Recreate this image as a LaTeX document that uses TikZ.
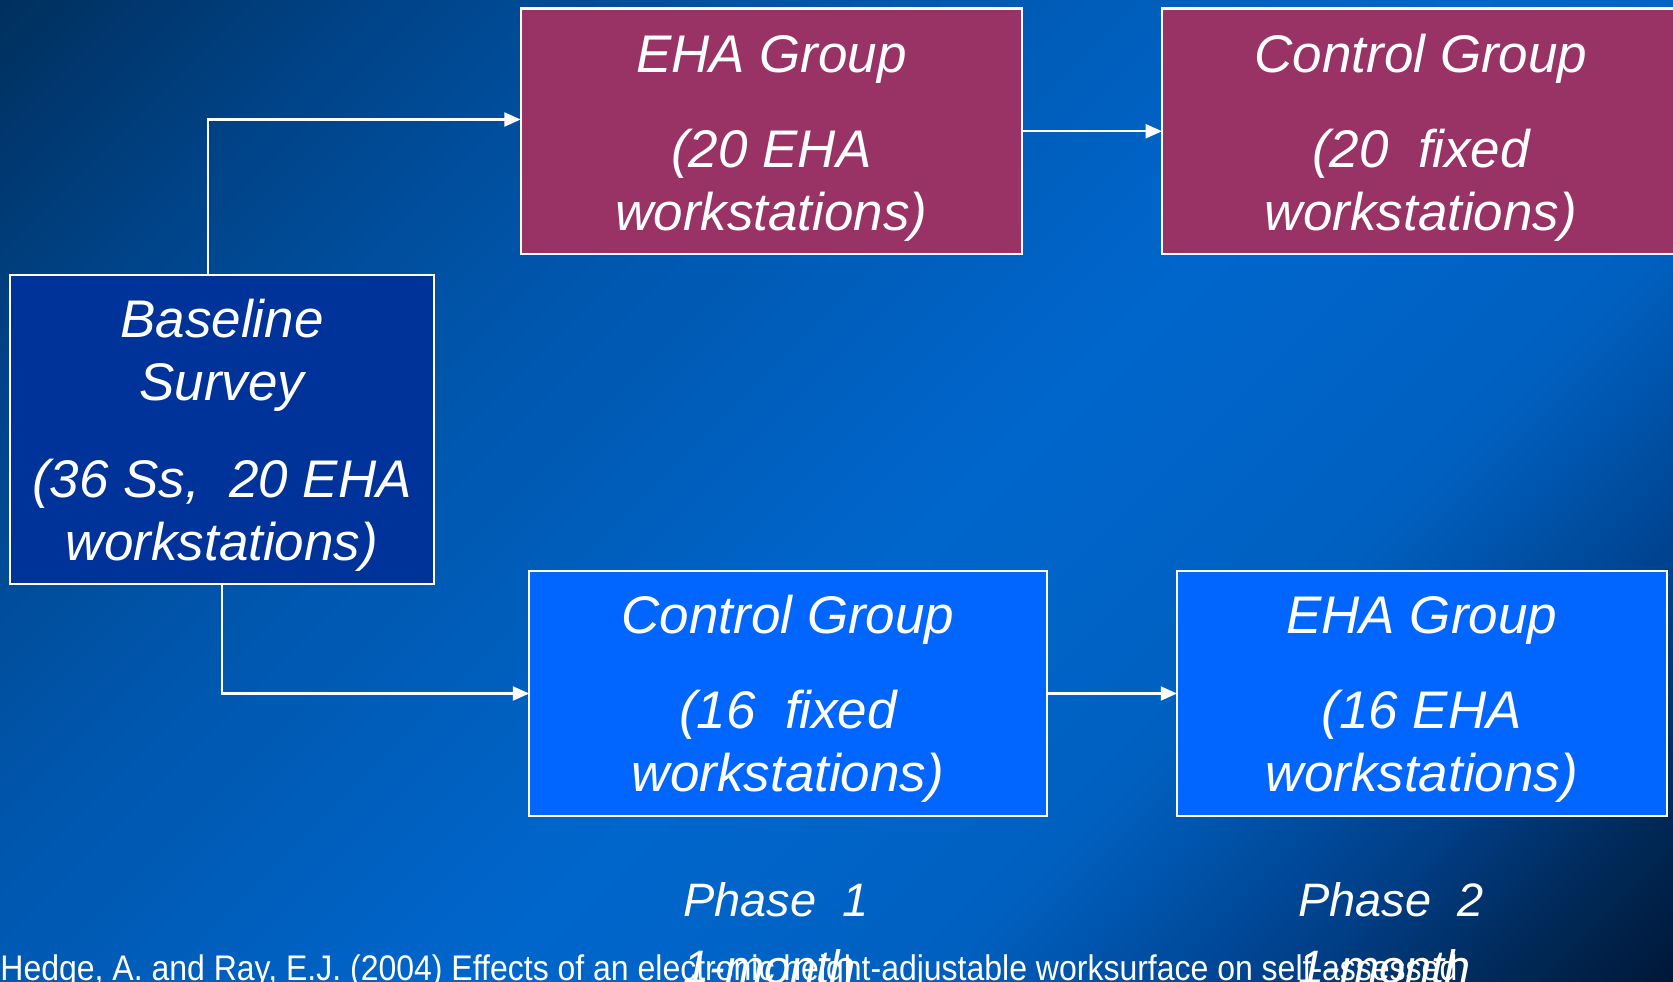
\documentclass[tikz,border=0pt]{standalone}
\usepackage{fontspec}
\setmainfont{Liberation Sans}
\newfontfamily\citefont[FakeStretch=0.9]{Liberation Sans}
\usetikzlibrary{arrows.meta}
\definecolor{bg0}{HTML}{001838}
\definecolor{bg1}{HTML}{002A5A}
\definecolor{bg2}{HTML}{00408A}
\definecolor{bg3}{HTML}{0060C0}
\definecolor{bg4}{HTML}{0066CC}
\definecolor{bg5}{HTML}{0055AA}
\definecolor{bg6}{HTML}{00448A}
\definecolor{bg7}{HTML}{00305E}
\definecolor{maroonbox}{HTML}{993366}
\definecolor{navybox}{HTML}{003399}
\definecolor{brightbox}{HTML}{0066FF}
\pgfdeclareverticalshading{bgshade}{100bp}{color(0bp)=(bg0); color(14.6bp)=(bg0); color(19.6bp)=(bg1); color(25.2bp)=(bg2); color(34.4bp)=(bg3); color(46.5bp)=(bg4); color(64.2bp)=(bg5); color(74.8bp)=(bg6); color(85.4bp)=(bg7); color(100bp)=(bg7)}
\begin{document}
\begin{tikzpicture}[x=0.4304pt,y=-0.4304pt,
  box/.style={draw=white,line width=0.9pt,rectangle,inner sep=0pt,outer sep=0pt},
  txt/.style={text=white,font=\fontsize{22.8}{27}\selectfont\itshape,inner sep=0pt,anchor=base},
  phase/.style={text=white,font=\fontsize{20.2}{24}\selectfont\itshape,inner sep=0pt,anchor=base west},
  cite/.style={text=white,font=\citefont\fontsize{15.3}{18}\selectfont,inner sep=0pt,anchor=base west},
  conn/.style={draw=white,line width=0.9pt,-{Triangle[length=7pt,width=6pt]}}]
\useasboundingbox (0,0) rectangle (1673,982);
\shade[shading=bgshade,shading angle=45] (0,0) rectangle (1673,982);
% boxes
\node[box,fill=maroonbox,minimum width=215.85pt,minimum height=105.66pt] (eha1) at (771.45,131.25) {};
\node[box,fill=maroonbox,minimum width=222.95pt,minimum height=105.66pt] (ctl1) at (1421,131.25) {};
\node[box,fill=navybox,minimum width=182.79pt,minimum height=132.69pt] (base) at (221.95,429.45) {};
\node[box,fill=brightbox,minimum width=222.73pt,minimum height=105.62pt] (ctl2) at (787.95,693.5) {};
\node[box,fill=brightbox,minimum width=210.72pt,minimum height=105.62pt] (eha2) at (1421.8,693.5) {};
% texts
\node[txt] (eha1a) at (771.45,72) {EHA Group};
\node[txt] (eha1b) at (771.45,167) {(20 EHA};
\node[txt] (eha1c) at (771.45,230) {workstations)};
\node[txt] (ctl1a) at (1421,72) {Control Group};
\node[txt] (ctl1b) at (1421,167) {(20\ \ fixed};
\node[txt] (ctl1c) at (1421,230) {workstations)};
\node[txt] (basea) at (222,337.3) {Baseline};
\node[txt] (baseb) at (222,400.7) {Survey};
\node[txt] (basec) at (222,497.3) {(36 Ss,\ \ 20 EHA};
\node[txt] (based) at (222,560) {workstations)};
\node[txt] (ctl2a) at (788,633.5) {Control Group};
\node[txt] (ctl2b) at (788,728.5) {(16\ \ fixed};
\node[txt] (ctl2c) at (788,791.7) {workstations)};
\node[txt] (eha2a) at (1421.8,633.5) {EHA Group};
\node[txt] (eha2b) at (1421.8,728.5) {(16 EHA};
\node[txt] (eha2c) at (1421.8,791.7) {workstations)};
% connectors
\coordinate (k1) at (208,119.5);
\coordinate (k2) at (222,693.5);
\draw[conn] (base.north -| k1) |- (eha1.west |- k1);
\draw[conn] (eha1.east) -- (ctl1.west);
\draw[conn] (base.south -| k2) |- (ctl2.west);
\draw[conn] (ctl2.east) -- (eha2.west);
% bottom texts
\node[cite] (cite) at (0,980) {Hedge, A. and Ray, E.J. (2004) Effects of an electronic height-adjustable worksurface on self-assessed};
\node[phase] (ph1) at (683,916) {Phase\ \ 1};
\node[phase] (ph2) at (1298,916) {Phase\ \ 2};
\node[phase] (mo1) at (683,983) {1-month};
\node[phase] (mo2) at (1298,983) {1-month};
\end{tikzpicture}
\end{document}
